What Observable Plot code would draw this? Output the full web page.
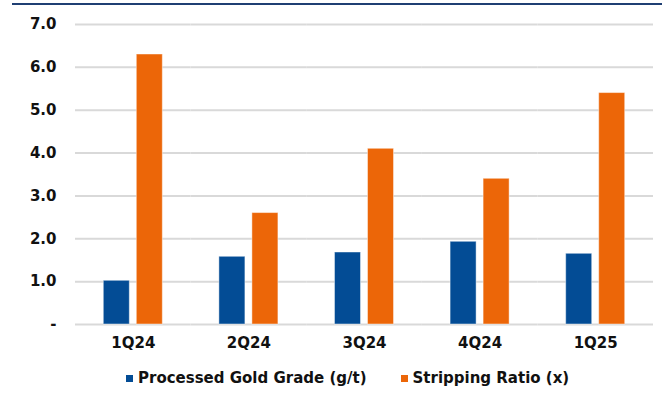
<!DOCTYPE html>
<html>
<head>
<meta charset="utf-8">
<script src="https://cdn.jsdelivr.net/npm/d3@7"></script>
<script src="https://cdn.jsdelivr.net/npm/@observablehq/plot@0.6"></script>
<style>
  html, body { margin: 0; padding: 0; background: #fff; }
  #wrap { position: relative; width: 662px; height: 401px; font-family: "DejaVu Sans", Verdana, sans-serif; }
  #topline { position: absolute; left: 12px; right: 0; top: 3px; height: 2px; background: #1f3f73; }
  #chart { position: absolute; left: 0; top: 0; }
  #legend { position: absolute; left: 126px; top: 370px; display: flex; gap: 34px; font-weight: bold; font-size: 15px; color: #111; }
  .item { display: flex; align-items: center; gap: 5px; line-height: 17px; }
  .sw { width: 7px; height: 7px; display: inline-block; }
</style>
</head>
<body>
<div id="wrap">
  <div id="topline"></div>
  <div id="chart"></div>
  <div id="legend"></div>
</div>
<script>
// Quarterly mining metrics
const quarters = ["1Q24", "2Q24", "3Q24", "4Q24", "1Q25"];
const goldGrade = [1.02, 1.58, 1.68, 1.93, 1.65];      // Processed Gold Grade (g/t)
const strippingRatio = [6.3, 2.6, 4.1, 3.4, 5.4];     // Stripping Ratio (x)
const seriesNames = ["Processed Gold Grade (g/t)", "Stripping Ratio (x)"];
const seriesColors = ["#034c95", "#ec6608"];
const yTicks = [0, 1, 2, 3, 4, 5, 6, 7];

const rows = [];
quarters.forEach((q, i) => {
  rows.push({quarter: q, series: seriesNames[0], value: goldGrade[i]});
  rows.push({quarter: q, series: seriesNames[1], value: strippingRatio[i]});
});

const chart = Plot.plot({
  width: 662,
  height: 360,
  marginLeft: 75,
  marginRight: 9,
  marginTop: 24,
  marginBottom: 36,
  style: {fontFamily: "'DejaVu Sans', Verdana, sans-serif", fontSize: "15px", fontWeight: "bold", color: "#111", background: "transparent"},
  fx: {domain: quarters, padding: 0, round: false, label: null, tickSize: 0, tickPadding: 13},
  x: {domain: seriesNames, paddingInner: 0.212, paddingOuter: 0.857, round: false, axis: null},
  y: {domain: [0, 7], ticks: yTicks, tickSize: 0, tickPadding: 19, label: null,
      tickFormat: d => d === 0 ? "-" : d.toFixed(1)},
  color: {domain: seriesNames, range: seriesColors},
  marks: [
    Plot.gridY(yTicks, {stroke: "#d9d9d9", strokeOpacity: 1, strokeWidth: 2}),
    Plot.barY(rows, {fx: "quarter", x: "series", y: "value", fill: "series",
      stroke: "#ffffff", strokeOpacity: 0.45, strokeWidth: 1})
  ]
});
document.getElementById("chart").appendChild(chart);

const legend = document.getElementById("legend");
seriesNames.forEach((name, i) => {
  const item = document.createElement("div");
  item.className = "item";
  const sw = document.createElement("span");
  sw.className = "sw";
  sw.style.background = seriesColors[i];
  const label = document.createElement("span");
  label.textContent = name;
  item.appendChild(sw);
  item.appendChild(label);
  legend.appendChild(item);
});
</script>
</body>
</html>
